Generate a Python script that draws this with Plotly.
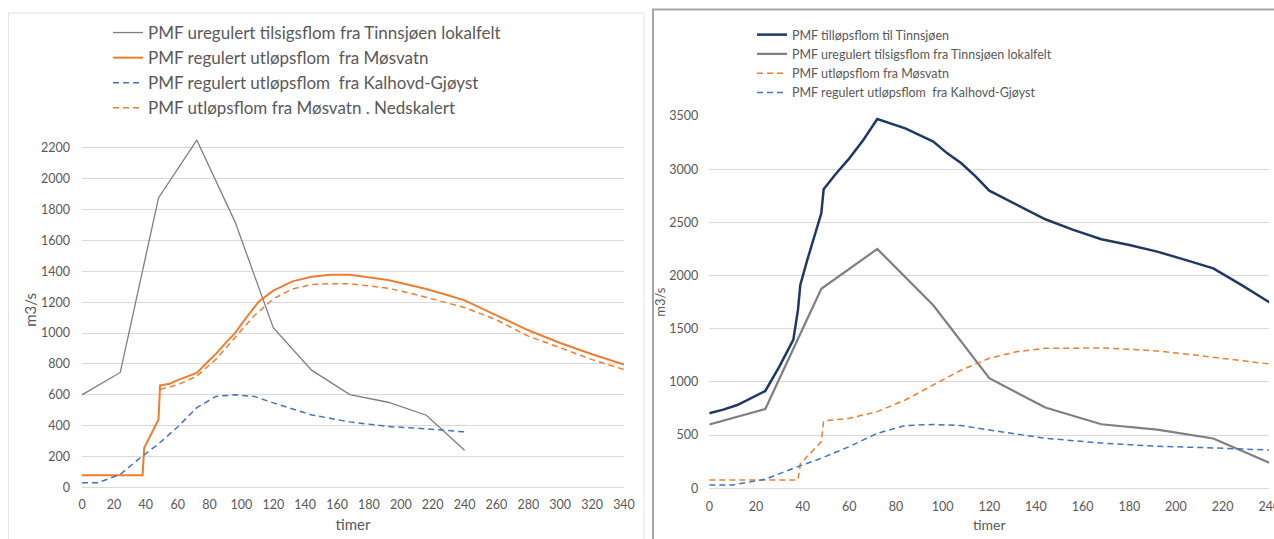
import plotly.graph_objects as go

W, H = 1274, 539

# Timer (hours) and flows (m3/s)
lokal_t = [0, 24, 48, 72, 96, 120, 144, 168, 192, 216, 240]
lokal_q = [600, 745, 1875, 2250, 1720, 1035, 760, 602, 552, 468, 241]

mos_reg_t = [0, 38, 39, 42, 46, 48, 49, 55, 60, 72, 80, 84, 90, 96, 102, 108, 111,
             120, 132, 144, 156, 168, 180, 192, 204, 216, 228, 240, 260, 280, 300, 320, 340]
mos_reg_q = [80, 80, 255, 320, 400, 440, 662, 672, 695, 742, 826, 865, 935, 1000, 1085, 1165, 1205,
             1275, 1335, 1365, 1377, 1377, 1362, 1343, 1315, 1285, 1250, 1212, 1115, 1018, 936, 863, 796]

kal_t = [0, 10, 24, 36, 48, 60, 72, 84, 96, 108, 120, 144, 168, 192, 216, 240]
kal_q = [30, 31, 85, 188, 282, 392, 517, 590, 600, 590, 548, 470, 425, 395, 380, 360]

mos_ned_t = [49, 60, 72, 84, 96, 108, 120, 132, 144, 156, 168, 180, 192, 204, 216, 228, 240,
             260, 280, 300, 320, 340]
mos_ned_q = [635, 665, 721, 830, 972, 1112, 1222, 1285, 1314, 1320, 1320, 1307, 1290, 1263, 1232, 1200, 1166,
             1085, 980, 905, 828, 764]

mos_ut_t = [0, 38, 39, 42, 46, 48, 49, 60, 72, 84, 96, 108, 120, 132, 144, 156, 168,
            180, 192, 204, 216, 228, 240]
mos_ut_q = [78, 78, 230, 300, 390, 439, 633, 658, 721, 830, 972, 1112, 1222, 1285, 1316, 1319, 1319,
            1307, 1291, 1263, 1232, 1200, 1169]

tinn_t = [0, 6, 12, 18, 24, 30, 36, 38, 39, 42, 46, 48, 49, 54, 60, 66, 72, 84, 96, 102, 108,
          114, 120, 132, 144, 156, 168, 180, 192, 204, 216, 228, 240]
tinn_q = [705, 740, 783, 852, 915, 1144, 1395, 1677, 1912, 2147, 2429, 2585, 2811, 2950, 3102, 3275,
          3472, 3384, 3259, 3149, 3055, 2935, 2798, 2663, 2529, 2429, 2341, 2288, 2225, 2147, 2068,
          1912, 1749]

GREY = "#7f7f7f"
ORANGE = "#ed7d31"
BLUE = "#4472c4"
NAVY = "#203864"
TXT = "#595959"
GRID = "#d9d9d9"
FONT = "Lato, Carlito, 'Liberation Sans', sans-serif"
DASH = "6px,4px"


def px_x(p):
    return p / W


def px_y(p):
    return (H - p) / H


fig = go.Figure()

# Left chart
fig.add_trace(go.Scatter(x=lokal_t, y=lokal_q, mode="lines", name="PMF uregulert tilsigsflom fra Tinnsjøen lokalfelt",
                         line=dict(color=GREY, width=1.3), xaxis="x", yaxis="y", legend="legend"))
fig.add_trace(go.Scatter(x=mos_reg_t, y=mos_reg_q, mode="lines", name="PMF regulert utløpsflom  fra Møsvatn",
                         line=dict(color=ORANGE, width=2), xaxis="x", yaxis="y", legend="legend"))
fig.add_trace(go.Scatter(x=kal_t, y=kal_q, mode="lines", name="PMF regulert utløpsflom  fra Kalhovd-Gjøyst",
                         line=dict(color=BLUE, width=1.5, dash=DASH), xaxis="x", yaxis="y", legend="legend"))
fig.add_trace(go.Scatter(x=mos_ned_t, y=mos_ned_q, mode="lines", name="PMF utløpsflom fra Møsvatn . Nedskalert",
                         line=dict(color=ORANGE, width=1.5, dash=DASH), xaxis="x", yaxis="y", legend="legend"))

# Right chart
fig.add_trace(go.Scatter(x=tinn_t, y=tinn_q, mode="lines", name="PMF tilløpsflom til Tinnsjøen",
                         line=dict(color=NAVY, width=2.5), xaxis="x2", yaxis="y2", legend="legend2"))
fig.add_trace(go.Scatter(x=lokal_t, y=lokal_q, mode="lines", name="PMF uregulert tilsigsflom fra Tinnsjøen lokalfelt",
                         line=dict(color=GREY, width=2.2), xaxis="x2", yaxis="y2", legend="legend2"))
fig.add_trace(go.Scatter(x=mos_ut_t, y=mos_ut_q, mode="lines", name="PMF utløpsflom fra Møsvatn",
                         line=dict(color=ORANGE, width=1.5, dash=DASH), xaxis="x2", yaxis="y2", legend="legend2"))
fig.add_trace(go.Scatter(x=kal_t, y=kal_q, mode="lines", name="PMF regulert utløpsflom  fra Kalhovd-Gjøyst",
                         line=dict(color=BLUE, width=1.5, dash=DASH), xaxis="x2", yaxis="y2", legend="legend2"))

axis_common = dict(showline=False, ticks="", color=TXT, automargin=False, ticklabeloverflow="allow",
                   zeroline=False, tickfont=dict(family=FONT, size=12.5, color=TXT))

fig.update_layout(
    width=W, height=H,
    margin=dict(l=0, r=0, t=0, b=0, autoexpand=False),
    paper_bgcolor="white", plot_bgcolor="white",
    font=dict(family=FONT, color=TXT),
    xaxis=dict(domain=[px_x(82), px_x(624)], range=[0, 340], tickmode="linear", tick0=0, dtick=20,
               showgrid=False, anchor="y", ticklabelstandoff=8,
               title=dict(text="timer", font=dict(family=FONT, size=15, color=TXT), standoff=8),
               **axis_common),
    yaxis=dict(domain=[px_y(487.5), px_y(132.3)], range=[0, 2300], tickmode="linear", tick0=0, dtick=200,
               showgrid=True, gridcolor=GRID, gridwidth=1, anchor="x", ticklabelstandoff=11,
               title=dict(text="m3/s", font=dict(family=FONT, size=15, color=TXT), standoff=0),
               **axis_common),
    xaxis2=dict(domain=[px_x(709.3), px_x(1269.3)], range=[0, 240], tickmode="linear", tick0=0, dtick=20,
                showgrid=False, anchor="y2", ticklabelstandoff=9,
                title=dict(text="timer", font=dict(family=FONT, size=14, color=TXT), standoff=7),
                **axis_common),
    yaxis2=dict(domain=[px_y(488.3), px_y(116)], range=[0, 3500], tickmode="linear", tick0=0, dtick=500,
                showgrid=True, gridcolor=GRID, gridwidth=1, anchor="x2", ticklabelstandoff=10,
                title=dict(text="m3/s", font=dict(family=FONT, size=13, color=TXT), standoff=0),
                **axis_common),
    legend=dict(x=px_x(108), y=px_y(15), xanchor="left", yanchor="top", bgcolor="rgba(0,0,0,0)",
                font=dict(family=FONT, size=17, color=TXT), traceorder="normal", itemwidth=30,
                tracegroupgap=0),
    legend2=dict(x=px_x(752), y=px_y(20), xanchor="left", yanchor="top", bgcolor="rgba(0,0,0,0)",
                 font=dict(family=FONT, size=12.5, color=TXT), traceorder="normal", itemwidth=30,
                 tracegroupgap=0),
    showlegend=True,
    shapes=[
        dict(type="rect", xref="paper", yref="paper", x0=px_x(8.5), x1=px_x(644), y0=-0.2, y1=px_y(13),
             line=dict(color="#e3e3e3", width=1), layer="below"),
        dict(type="rect", xref="paper", yref="paper", x0=px_x(653), x1=1.2, y0=-0.2, y1=px_y(9.5),
             line=dict(color="#a6a6a6", width=2), layer="below"),
    ],
)
# baseline of each value axis, in the grid colour
fig.update_yaxes(zeroline=True, zerolinecolor=GRID, zerolinewidth=1)

fig.write_html("out.html")
